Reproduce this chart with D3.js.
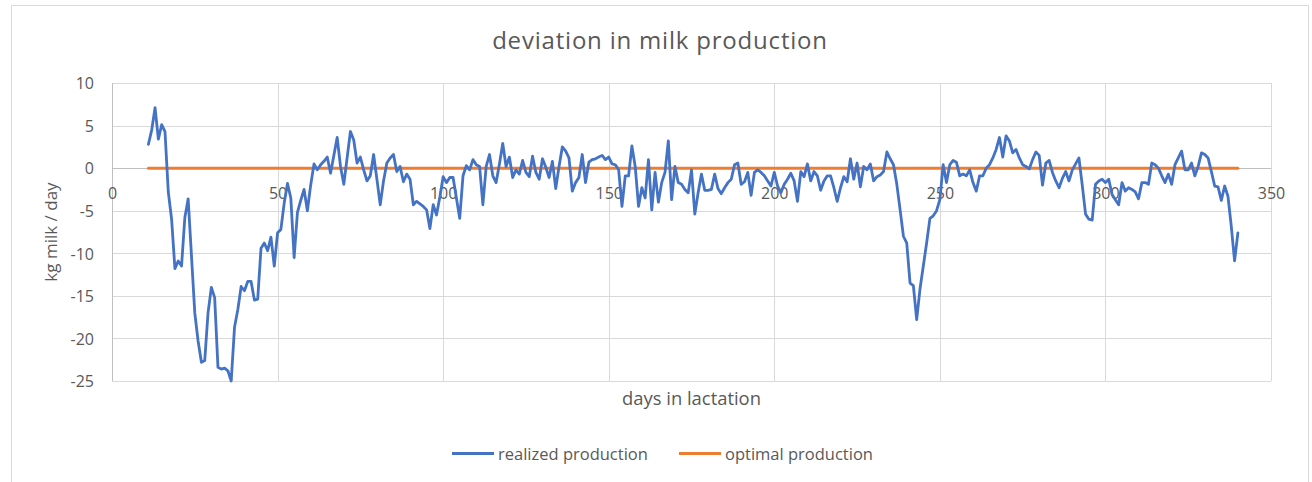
<!DOCTYPE html>
<html>
<head>
<meta charset="utf-8">
<script src="https://cdn.jsdelivr.net/npm/d3@7"></script>
<style>
  body { margin: 0; background: #fff; }
  svg { display: block; font-family: "Open Sans", sans-serif; }
</style>
</head>
<body>
<div id="chart"></div>
<script>
// realized production, one value per day in lactation (first day = 11)
var firstDay = 11;
var realized = [
    2.8, 4.5, 7.1, 3.4, 5.1, 4.3, -2.8, -6.0, -11.8, -10.9,
    -11.5, -5.8, -3.6, -10.3, -17.0, -20.3, -22.8, -22.6, -17.0, -14.0,
    -15.2, -23.4, -23.6, -23.5, -23.8, -25.0, -18.7, -16.6, -13.9, -14.4,
    -13.3, -13.3, -15.5, -15.4, -9.4, -8.8, -9.7, -8.1, -11.5, -7.6,
    -7.2, -4.1, -1.8, -3.5, -10.5, -5.2, -3.8, -2.5, -5.0, -2.0,
    0.5, -0.2, 0.4, 0.8, 1.3, -0.6, 1.5, 3.6, 0.2, -1.9,
    1.2, 4.3, 3.3, 0.6, 1.3, -0.2, -1.5, -0.9, 1.6, -1.3,
    -4.3, -1.5, 0.6, 1.2, 1.6, -0.4, 0.2, -1.6, -0.7, -1.3,
    -4.3, -3.9, -4.2, -4.5, -4.9, -7.1, -4.3, -5.5, -3.4, -1.0,
    -1.7, -1.1, -1.1, -3.5, -5.9, -0.9, 0.3, -0.2, 1.0, 0.4,
    0.2, -4.3, 0.2, 1.6, -0.9, -1.7, 0.5, 2.9, 0.2, 1.3,
    -1.1, -0.2, -0.7, 0.9, -0.5, -1.0, 1.4, -0.5, -1.3, 1.1,
    0.1, -1.1, 0.8, -2.4, 0.2, 2.5, 2.0, 1.2, -2.7, -1.7,
    -1.1, 1.6, -1.7, 0.7, 1.0, 1.1, 1.3, 1.5, 1.0, 1.3,
    0.5, 0.4, -0.2, -4.5, -0.9, -0.9, 2.6, 0.2, -4.5, -2.3,
    -3.5, 1.0, -4.9, -0.5, -4.0, -1.7, -0.5, 3.2, -3.7, 0.2,
    -1.7, -1.9, -2.5, -2.9, -0.2, -5.4, -2.9, -0.7, -2.6, -2.6,
    -2.5, -0.7, -2.4, -3.0, -2.3, -1.7, -1.3, 0.4, 0.6, -1.9,
    -1.6, -0.5, -3.2, -0.5, -0.2, -0.5, -0.9, -1.5, -2.1, -0.5,
    -2.1, -2.9, -1.9, -1.3, -0.6, -1.5, -3.9, -0.4, -1.0, 0.5,
    -1.5, -0.4, -0.9, -2.6, -1.5, -0.9, -0.9, -2.3, -3.9, -2.3,
    -1.0, -1.6, 1.1, -1.3, 0.6, -2.2, 0.2, -0.2, 0.5, -1.5,
    -1.0, -0.8, -0.4, 1.9, 1.1, 0.4, -1.9, -4.9, -8.0, -8.8,
    -13.5, -13.8, -17.8, -14.2, -11.5, -8.8, -5.9, -5.6, -5.0, -3.7,
    0.4, -1.7, 0.4, 0.9, 0.7, -0.9, -0.7, -0.9, -0.2, -1.7,
    -2.7, -0.9, -0.9, 0.0, 0.4, 1.2, 2.2, 3.6, 1.3, 3.8,
    3.2, 1.8, 2.2, 1.2, 0.4, 0.2, -0.1, 1.0, 1.9, 1.5,
    -2.0, 0.6, 0.9, -0.5, -1.5, -2.3, -1.2, -0.4, -1.5, -0.2,
    0.5, 1.2, -2.0, -5.4, -6.0, -6.1, -1.9, -1.5, -1.3, -1.7,
    -1.3, -3.1, -3.7, -4.3, -1.7, -2.7, -2.3, -2.5, -2.8, -3.6,
    -1.7, -1.7, -1.9, 0.6, 0.4, 0.0, -0.9, -1.7, -0.7, -1.9,
    0.4, 1.2, 2.0, -0.2, -0.2, 0.6, -0.9, 0.2, 1.8, 1.6,
    1.2, -0.4, -2.1, -2.2, -3.8, -2.1, -3.3, -6.8, -10.9, -7.6
];

// optimal production is flat at zero over the same days
var optimalDays = [11, 340];
var optimalValues = [0, 0];

var xTicks = [0, 50, 100, 150, 200, 250, 300, 350];
var yTicks = [-25, -20, -15, -10, -5, 0, 5, 10];

var seriesNames = ["realized production", "optimal production"];
var seriesColors = ["#4472C4", "#ED7D31"];

var svgWidth = 1312;
var svgHeight = 482;

// plot area edges
var plot = { left: 112, right: 1271, top: 83, bottom: 381 };

var svg = d3.select("#chart")
    .append("svg")
    .attr("width", svgWidth)
    .attr("height", svgHeight);

// chart frame
svg.append("rect")
    .attr("x", 11.5)
    .attr("y", 5.5)
    .attr("width", 1297)
    .attr("height", 500)
    .attr("fill", "#fff")
    .attr("stroke", "#d9d9d9");

var xScale = d3.scaleLinear().domain([0, 350]).range([plot.left, plot.right]);
var yScale = d3.scaleLinear().domain([-25, 10]).range([plot.bottom, plot.top]);

// gridlines
svg.append("g")
    .selectAll("line")
    .data(yTicks)
    .enter()
    .append("line")
    .attr("x1", plot.left)
    .attr("x2", plot.right)
    .attr("y1", d => Math.round(yScale(d)) + 0.5)
    .attr("y2", d => Math.round(yScale(d)) + 0.5)
    .attr("stroke", "#d9d9d9");

svg.append("g")
    .selectAll("line")
    .data(xTicks)
    .enter()
    .append("line")
    .attr("x1", d => Math.round(xScale(d)) + 0.5)
    .attr("x2", d => Math.round(xScale(d)) + 0.5)
    .attr("y1", plot.top)
    .attr("y2", plot.bottom)
    .attr("stroke", "#d9d9d9");

// axis lines (left edge and zero line)
svg.append("line")
    .attr("x1", Math.round(xScale(0)) + 0.5)
    .attr("x2", Math.round(xScale(0)) + 0.5)
    .attr("y1", plot.top)
    .attr("y2", plot.bottom)
    .attr("stroke", "#bfbfbf");

svg.append("line")
    .attr("x1", plot.left)
    .attr("x2", plot.right)
    .attr("y1", Math.round(yScale(0)) + 0.5)
    .attr("y2", Math.round(yScale(0)) + 0.5)
    .attr("stroke", "#bfbfbf");

// y axis labels (plain hyphen minus like the original)
var leftAxis = d3.axisLeft(yScale)
    .tickValues(yTicks)
    .tickFormat(d => String(d))
    .tickSize(0)
    .tickPadding(18);
var yAxis = svg.append("g")
    .attr("transform", `translate(${plot.left}, 0)`)
    .call(leftAxis);
yAxis.select(".domain").remove();
yAxis.selectAll("text")
    .attr("fill", "#595959")
    .attr("dy", "0.36em")
    .style("font-size", "16px")
    .style("font-family", "'Open Sans', sans-serif");

// x axis labels sit under the zero line
var bottomAxis = d3.axisBottom(xScale)
    .tickValues(xTicks)
    .tickFormat(d => String(d))
    .tickSize(0)
    .tickPadding(19);
var xAxis = svg.append("g")
    .attr("transform", `translate(0, ${yScale(0)})`)
    .call(bottomAxis);
xAxis.select(".domain").remove();
xAxis.selectAll("text")
    .attr("fill", "#595959")
    .style("font-size", "16px")
    .style("font-family", "'Open Sans', sans-serif");

// series lines
var realizedData = realized.map((v, i) => ({ day: firstDay + i, value: v }));
var optimalData = optimalDays.map((d, i) => ({ day: d, value: optimalValues[i] }));

var line = d3.line()
    .x(d => xScale(d.day))
    .y(d => yScale(d.value));

svg.append("path")
    .datum(optimalData)
    .attr("d", line)
    .attr("fill", "none")
    .attr("stroke", seriesColors[1])
    .attr("stroke-width", 3)
    .attr("stroke-linecap", "round");

svg.append("path")
    .datum(realizedData)
    .attr("d", line)
    .attr("fill", "none")
    .attr("stroke", seriesColors[0])
    .attr("stroke-width", 2.8)
    .attr("stroke-linejoin", "round")
    .attr("stroke-linecap", "round");

// titles
svg.append("text")
    .attr("x", 660)
    .attr("y", 49)
    .attr("text-anchor", "middle")
    .attr("fill", "#595959")
    .style("font-size", "24px")
    .style("letter-spacing", "0.8px")
    .text("deviation in milk production");

svg.append("text")
    .attr("x", (plot.left + plot.right) / 2)
    .attr("y", 405)
    .attr("text-anchor", "middle")
    .attr("fill", "#595959")
    .style("font-size", "18.4px")
    .text("days in lactation");

svg.append("text")
    .attr("transform", `translate(50, ${(plot.top + plot.bottom) / 2}) rotate(-90)`)
    .attr("text-anchor", "middle")
    .attr("dominant-baseline", "central")
    .attr("fill", "#595959")
    .style("font-size", "17px")
    .text("kg milk / day");

// legend
var legendX = [452, 679];
var legend = svg.append("g")
    .selectAll("g")
    .data(seriesNames)
    .enter()
    .append("g")
    .attr("transform", (d, i) => `translate(${legendX[i]}, 453.5)`);

legend.append("line")
    .attr("x1", 0)
    .attr("x2", 42)
    .attr("stroke", (d, i) => seriesColors[i])
    .attr("stroke-width", 3);

legend.append("text")
    .attr("x", 46)
    .attr("y", 6)
    .attr("fill", "#595959")
    .style("font-size", "16.5px")
    .text(d => d);
</script>
</body>
</html>
